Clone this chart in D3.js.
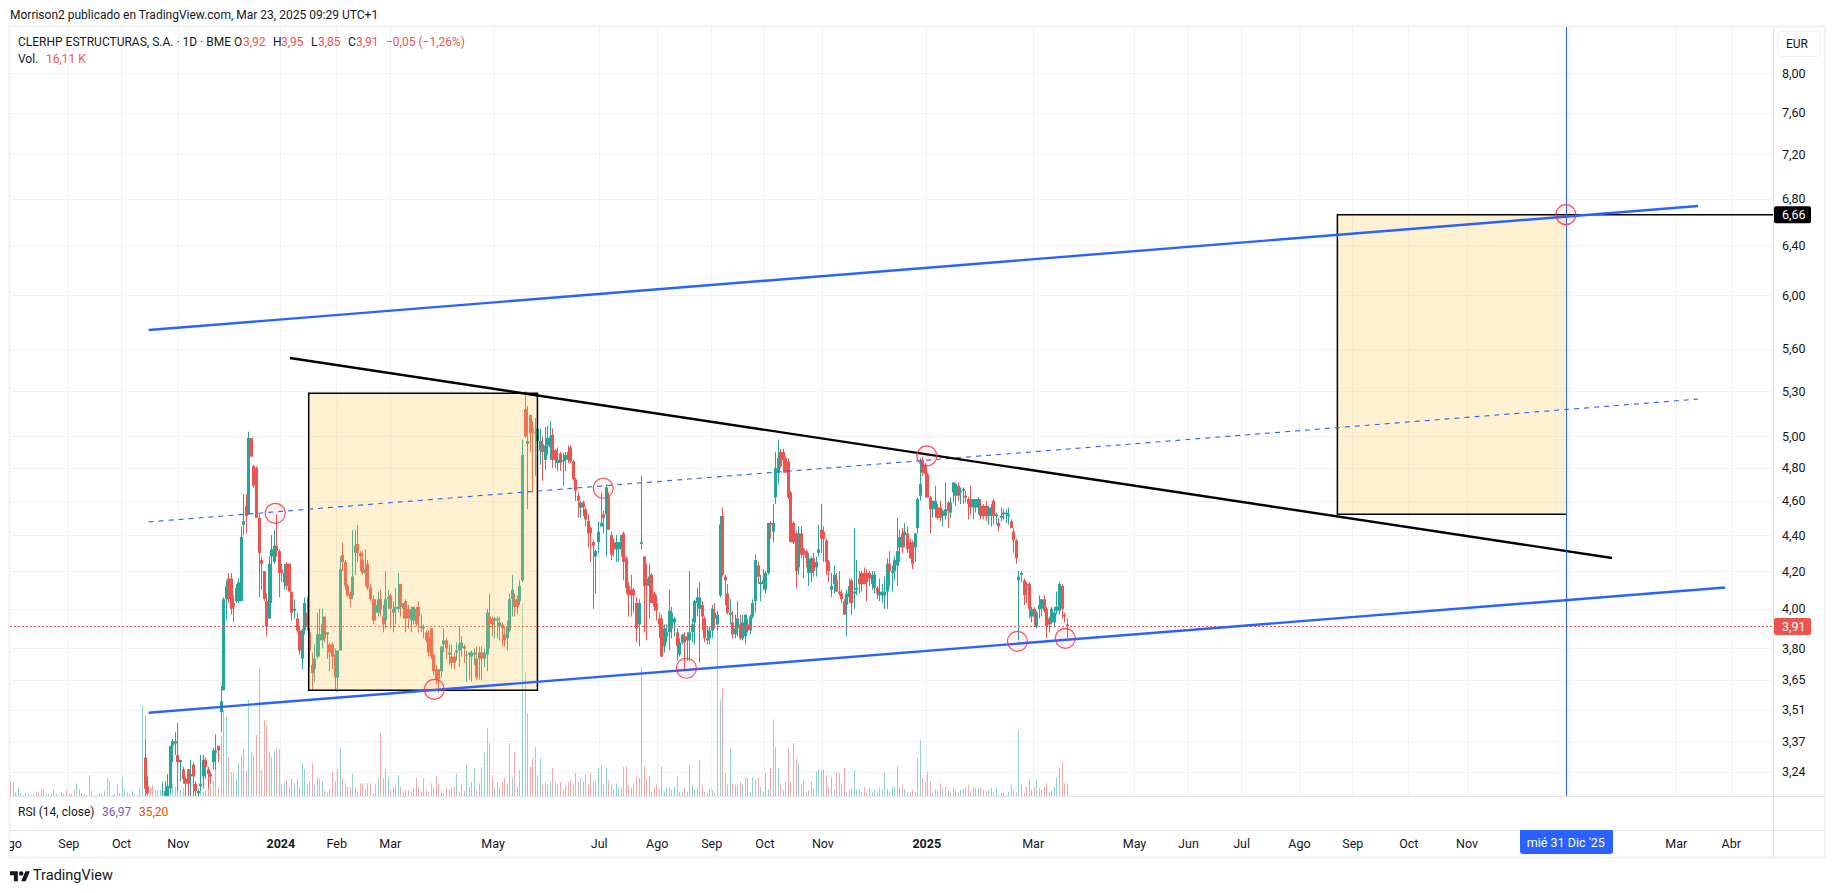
<!DOCTYPE html>
<html lang="es">
<head>
<meta charset="utf-8">
<title>CLERHP ESTRUCTURAS, S.A. · 1D · BME</title>
<script src="https://cdn.jsdelivr.net/npm/d3@7/dist/d3.min.js"></script>
<style>
  html, body { margin: 0; padding: 0; background: #fff; }
  svg { display: block; }
  text { font-family: Roboto, sans-serif; font-size: 12px; fill: #131722; }
</style>
</head>
<body>
<div id="chart"></div>
<script>
// Daily session table. Bars 0-52 sit below the visible price range, so only
// their volume is kept; candles start at bar 53. Prices are in euro cents.
const firstCandle = 53;
const lastBar = 417;

const opens = [
330,318,310,308,307,309,306,310,312,314,
317,335,336,331,328,325,321,325,322,327,
319,315,318,322,329,325,323,328,332,335,
350,360,405,416,416,403,404,404,404,446,
457,452,499,481,480,450,426,420,404,395,
428,425,434,431,421,414,424,424,409,399,
395,389,375,389,398,388,372,370,376,384,
384,396,387,382,382,377,366,379,429,425,
412,408,407,430,435,430,426,419,424,411,
405,398,398,405,396,394,405,407,398,400,
400,413,400,404,400,394,394,400,401,390,
390,388,386,390,377,370,370,369,382,384,
377,376,376,378,379,380,381,377,377,376,
377,375,375,378,375,377,396,395,394,394,
391,392,387,385,389,405,405,405,404,415,
518,495,514,505,503,497,491,495,485,494,
493,501,491,483,489,484,485,490,493,484,
473,463,456,459,455,448,444,436,428,436,
445,452,452,462,440,436,432,432,432,441,
427,412,410,410,403,392,435,428,416,412,
418,408,403,395,395,381,386,388,390,393,
388,377,383,386,386,384,388,393,403,400,
402,395,384,385,389,398,392,407,451,417,
408,397,393,387,390,392,385,386,392,389,
396,404,423,413,413,410,419,447,442,462,
477,490,490,486,484,465,447,441,422,441,
432,
431,419,419,427,422,430,443,442,437,425,
410,413,415,409,408,404,402,406,415,408,
410,416,419,419,419,419,413,411,411,407,
407,407,409,424,419,420,423,433,441,440,
441,436,436,433,444,463,485,482,476,462,
455,455,456,456,451,451,459,453,465,463,
469,465,466,463,461,461,456,456,456,457,
457,457,451,451,460,451,447,450,452,452,
451,448,442,437,415,418,415,413,413,396,
400,391,400,400,405,400,395,393,393,399,
399,412,397,392];

const highs = [
338,322,312,311,310,312,311,319,320,323,
335,338,341,345,329,326,322,325,329,328,
320,317,331,331,330,326,324,334,340,335,
362,406,415,419,419,407,413,416,445,464,
464,503,499,482,481,452,428,420,408,428,
440,443,452,432,424,424,425,424,409,405,
398,391,390,406,406,390,378,382,398,400,
400,396,388,383,383,380,379,428,436,426,
413,409,443,443,446,431,431,432,426,413,
407,405,409,410,402,420,410,408,404,411,
419,413,402,405,402,401,401,401,404,397,
392,389,389,390,377,372,370,381,390,385,
382,382,378,383,391,386,382,379,378,379,
380,381,381,381,380,400,408,396,396,396,
396,393,391,394,408,418,408,407,415,498,
530,520,514,510,512,510,505,500,506,507,
510,505,492,493,490,489,490,494,494,485,
474,465,460,460,456,452,445,437,432,448,
465,454,470,465,442,438,440,436,440,442,
428,414,418,411,406,405,475,428,424,424,
419,409,407,398,397,392,392,410,401,396,
390,385,387,388,388,420,395,405,411,414,
404,396,391,391,402,403,399,451,456,418,
413,405,399,397,404,397,397,397,395,397,
405,429,425,418,421,420,447,448,458,490,
498,492,492,487,486,466,448,442,445,445,
433,
432,430,428,430,428,446,458,445,438,426,
419,423,419,420,410,405,410,416,416,444,
426,420,420,422,421,420,420,420,412,416,
413,417,427,431,423,428,450,443,444,447,
445,438,437,441,462,486,487,483,477,463,
460,469,458,460,455,471,460,462,471,471,
471,468,468,466,462,469,461,461,462,461,
458,460,457,458,461,453,450,456,455,455,
456,449,444,438,420,420,416,414,414,401,
401,399,407,405,407,401,396,401,401,409,
414,413,398,395];

const lows = [
314,314,305,304,303,305,304,310,310,312,
315,328,331,316,320,319,314,314,314,314,
312,312,316,317,321,317,319,325,325,328,
341,360,394,403,397,393,403,403,404,440,
441,452,487,468,450,406,410,404,386,395,
403,424,428,406,414,410,410,409,394,395,
388,377,370,387,389,371,360,364,375,376,
380,383,375,369,370,360,359,379,420,410,
406,401,405,418,425,420,418,412,410,404,
392,394,396,396,388,390,400,390,388,392,
398,396,395,388,390,388,392,391,388,388,
385,383,376,375,367,363,359,366,378,375,
372,370,370,374,371,376,373,364,365,364,
372,365,365,365,371,369,380,386,385,385,
384,381,381,379,388,396,396,397,402,414,
499,455,490,465,475,475,482,472,479,488,
485,480,480,478,478,469,478,483,483,472,
460,450,450,451,445,433,425,400,408,430,
445,441,428,443,426,428,425,425,428,415,
408,396,396,398,383,381,432,388,384,395,
403,399,394,385,376,378,383,379,385,386,
374,376,382,369,374,374,383,382,396,373,
389,383,382,382,385,390,389,406,417,402,
397,392,385,385,386,384,384,382,388,387,
395,398,413,404,410,408,418,438,436,458,
470,480,477,477,461,436,435,411,418,427,
416,
422,412,414,417,417,428,430,425,418,414,
406,408,409,407,403,397,386,403,397,400,
407,408,409,413,404,412,410,408,405,404,
403,400,400,412,409,415,412,425,430,433,
430,427,421,425,441,460,475,462,462,441,
450,450,449,448,445,449,444,450,459,457,
460,458,458,459,449,452,449,453,452,449,
449,448,446,445,446,446,442,448,449,447,
446,444,430,424,384,414,402,403,395,393,
391,390,395,396,398,385,388,392,391,397,
397,395,393,385];

const closes = [
317,315,308,307,309,306,310,314,316,318,
335,337,337,328,329,321,319,319,323,322,
316,316,319,329,326,323,322,333,333,333,
355,405,412,405,400,401,411,414,439,448,
451,499,487,469,450,430,424,405,391,424,
432,434,431,419,419,419,412,409,398,400,
389,379,389,403,391,379,368,375,387,387,
392,385,388,378,376,366,379,421,425,412,
407,405,417,434,430,428,419,421,411,405,
394,402,405,400,392,405,406,400,400,401,
401,401,403,395,395,400,401,392,396,391,
391,384,378,376,369,365,365,381,384,380,
378,373,373,379,382,383,380,377,378,378,
378,366,378,375,378,398,392,392,395,395,
393,390,384,391,405,410,401,401,412,488,
500,497,502,503,502,505,497,490,494,499,
500,485,485,485,483,485,488,485,484,473,
466,460,459,456,449,441,441,434,431,442,
447,450,468,443,429,432,436,436,440,425,
411,407,407,407,390,403,436,412,412,417,
403,401,399,392,376,390,388,399,398,395,
381,383,387,383,384,388,392,404,406,406,
396,385,385,389,400,395,397,446,418,415,
398,398,387,390,395,385,393,397,389,396,
403,426,417,414,415,419,447,446,447,480,
486,481,485,477,462,436,436,420,441,429,
429,
427,427,427,420,425,432,438,438,425,420,
412,418,409,408,405,397,408,412,403,409,
411,413,413,413,414,416,418,418,408,409,
409,409,424,420,420,426,431,439,433,442,
432,427,424,441,461,470,477,476,462,455,
460,460,450,450,454,455,454,459,471,470,
463,466,467,462,458,456,461,461,461,451,
451,451,456,456,451,452,445,451,453,453,
452,444,437,427,417,419,407,412,400,400,
396,398,402,405,399,391,392,400,398,401,
413,400,396,391];

// Volume in thousands of shares, one value per bar from bar 0.
const volumes = [
20,19,5,11,4,1,4,4,1,3,
5,5,9,8,4,3,3,8,3,1,
5,3,8,3,3,8,17,9,4,3,
1,28,7,1,1,4,3,7,24,21,
1,3,16,4,25,8,4,3,7,1,
1,11,121,
109,25,11,15,8,8,8,21,19,21,
19,17,12,31,8,11,8,24,12,15,
11,4,11,5,8,21,13,21,71,11,
81,115,106,52,32,31,24,44,56,63,
34,129,59,56,82,172,35,102,94,60,
52,60,64,63,16,17,21,13,23,17,
23,12,44,36,15,20,44,15,25,23,
19,7,4,9,32,20,36,64,24,17,
12,12,30,11,5,17,17,8,17,17,
4,15,24,85,24,36,25,8,12,15,
28,12,4,8,8,5,11,25,11,5,
24,8,5,17,12,27,17,5,4,11,
8,11,12,30,5,15,7,42,12,19,
38,8,17,39,58,91,71,25,11,19,
11,19,25,15,71,25,59,12,35,258,
166,111,39,51,66,28,51,15,17,15,
19,38,19,15,19,8,15,19,21,15,
31,19,24,19,28,15,31,19,21,38,
42,15,38,21,15,9,17,11,11,39,
40,15,11,17,27,24,173,40,24,27,
5,11,16,8,39,5,11,11,8,13,
27,5,5,11,5,42,15,8,11,47,
15,5,4,9,8,5,223,129,145,31,
15,64,17,15,15,19,15,25,25,5,
25,21,24,12,5,31,9,38,103,66,
38,17,8,19,64,19,71,50,44,15,
21,5,8,19,11,32,36,35,36,28,
12,25,8,31,31,17,38,5,8,11,
35,8,9,5,12,5,11,5,9,5,
11,8,31,9,5,12,12,40,11,15,
9,5,5,8,5,51,75,24,19,32,
19,4,9,8,17,11,12,8,5,11,
8,5,8,9,11,15,5,11,11,11,
12,8,5,8,11,5,12,1,4,5,
1,5,15,8,5,89,15,4,12,23,
8,12,21,11,8,12,17,5,7,12,
25,38,46,17,16.11];

// Direction of the bars that have no visible candle (1 = rising).
const earlyRising = [
0,1,0,1,1,1,0,1,1,0,
0,0,0,0,1,1,0,1,1,0,
1,0,0,1,1,0,1,1,0,1,
1,1,0,1,1,1,0,1,0,1,
1,1,0,1,1,1,0,0,1,1,
1,1,1];

// Axis labels.
const priceTicks = [8, 7.6, 7.2, 6.8, 6.4, 6, 5.6, 5.3, 5, 4.8, 4.6, 4.4, 4.2, 4, 3.8, 3.65, 3.51, 3.37, 3.24];
const timeLabels = ["Ago","Sep","Oct","Nov","2024","Feb","Mar","May","Jul","Ago","Sep","Oct","Nov","2025","Mar","May","Jun","Jul","Ago","Sep","Oct","Nov","Mar","Abr"];
const timeBars   = [0,22.9,43.7,66.1,106.6,128.7,149.8,190.4,232.3,255.2,276.7,297.7,320.6,361.6,403.6,443.6,464.9,485.9,508.7,529.8,551.9,574.9,657.5,679.2];
const yearLabels = ["2024","2025"];
const hiddenTickBar = 615.4;

// Trend lines as bar / price anchors, and the two measured zones.
const supportLine = [[54.6, 3.497], [677, 4.112]];
const upperLine   = [[54.6, 5.737], [666.3, 6.735]];
const middleLine  = [[54.6, 4.476], [666.3, 5.247]];
const blackLine   = [[110.4, 5.533], [632.3, 4.272]];
const targetPrice = 6.66;
const lastClose = 3.91;
const zoneBars = [[117.8, 208.1], [523.9, 614.1]];
const zonePrices = [[5.286, 3.60], [targetPrice, 4.52]];
const markerBars = [104.6, 167.4, 234.1, 266.9, 361.8, 397.6, 416.5, 614.1];
const markerPrices = [4.526, 3.604, 4.675, 3.704, 4.875, 3.835, 3.85, targetPrice];
const cursorBar = 614.1;

const GREEN = "#26a69a", RED = "#ef5350", BLUE = "#2962ff", GRID = "#eff1f4", RULE = "#e0e3eb";
const FONT = "Roboto, sans-serif";
const comma = d => d.toFixed(2).replace(".", ",");

const width = 1835, height = 893;
const paneLeft = 10, paneRight = 1773, paneTop = 27, paneBottom = 796;
const rsiBottom = 830, axisBottom = 857;

const svg = d3.select("#chart").append("svg").attr("width", width).attr("height", height);

const x = d3.scaleLinear().domain([0, lastBar]).range([10.3, 1066.6]);
const y = d3.scaleLog().domain([8, 3.24]).range([73, 771.7]);
const vol = d3.scaleLinear().domain([0, 258]).range([paneBottom, paneBottom - 192]);

svg.append("clipPath").attr("id", "pane").append("rect")
  .attr("x", paneLeft).attr("y", paneTop)
  .attr("width", paneRight - paneLeft).attr("height", paneBottom - paneTop);

// Frame and separators.
const frame = svg.append("g");
frame.append("rect").attr("x", 9.5).attr("y", 26.5).attr("width", 1815.5).attr("height", 831)
  .attr("fill", "none").attr("stroke", "#f0f1f4").attr("stroke-width", 2);
[paneBottom, rsiBottom].forEach(v => frame.append("line")
  .attr("x1", paneLeft).attr("x2", 1825).attr("y1", v + .5).attr("y2", v + .5).attr("stroke", RULE));
frame.append("line").attr("x1", paneRight + .5).attr("x2", paneRight + .5)
  .attr("y1", paneTop).attr("y2", axisBottom).attr("stroke", RULE);

const plot = svg.append("g").attr("clip-path", "url(#pane)");

// Grid.
plot.append("g").selectAll("line").data(priceTicks).join("line")
  .attr("x1", paneLeft).attr("x2", paneRight)
  .attr("y1", d => Math.round(y(d)) + .5).attr("y2", d => Math.round(y(d)) + .5)
  .attr("stroke", GRID);
plot.append("g").selectAll("line").data([...timeBars.slice(1), hiddenTickBar]).join("line")
  .attr("x1", d => Math.round(x(d)) + .5).attr("x2", d => Math.round(x(d)) + .5)
  .attr("y1", paneTop).attr("y2", paneBottom)
  .attr("stroke", GRID);

// Bar direction, shared by volume and candles.
const rising = i => i < firstCandle
  ? earlyRising[i] === 1
  : closes[i - firstCandle] >= opens[i - firstCandle];

// Volume.
plot.append("g").selectAll("rect").data(volumes).join("rect")
  .attr("x", (d, i) => Math.round(x(i)))
  .attr("width", 1)
  .attr("y", d => vol(d))
  .attr("height", d => paneBottom - vol(d))
  .attr("fill", (d, i) => rising(i) ? GREEN : RED)
  .attr("fill-opacity", .5);

// Candles.
const candles = plot.append("g").selectAll("g").data(opens).join("g")
  .attr("fill", (d, k) => rising(k + firstCandle) ? GREEN : RED);
candles.append("rect")
  .attr("x", (d, k) => Math.round(x(k + firstCandle)))
  .attr("width", 1)
  .attr("y", (d, k) => y(highs[k] / 100))
  .attr("height", (d, k) => y(lows[k] / 100) - y(highs[k] / 100));
candles.append("rect")
  .attr("x", (d, k) => Math.round(x(k + firstCandle)) - 1)
  .attr("width", 3)
  .attr("y", (d, k) => y(Math.max(opens[k], closes[k]) / 100))
  .attr("height", (d, k) => Math.max(1, Math.abs(y(opens[k] / 100) - y(closes[k] / 100))));

// Last price line.
plot.append("line")
  .attr("x1", paneLeft).attr("x2", paneRight)
  .attr("y1", Math.round(y(lastClose)) + .5).attr("y2", Math.round(y(lastClose)) + .5)
  .attr("stroke", RED).attr("stroke-dasharray", "2 2");

// Measured zones.
zoneBars.forEach((bars, n) => {
  const xa = x(bars[0]), xb = x(bars[1]), ya = y(zonePrices[n][0]), yb = y(zonePrices[n][1]);
  plot.append("rect").attr("x", xa).attr("y", ya).attr("width", xb - xa).attr("height", yb - ya)
    .attr("fill", "#facd55").attr("fill-opacity", .27);
  const outline = n === 0
    ? `M${xa},${ya}H${xb}V${yb}H${xa}Z`
    : `M${xb},${ya}H${xa}V${yb}H${xb}`;
  plot.append("path").attr("d", outline).attr("fill", "none").attr("stroke", "#000").attr("stroke-width", 1.5);
});
plot.append("line")
  .attr("x1", x(zoneBars[1][1])).attr("x2", paneRight)
  .attr("y1", y(targetPrice)).attr("y2", y(targetPrice))
  .attr("stroke", "#000").attr("stroke-width", 1.5);

// Trend lines.
const trend = d3.line().x(d => x(d[0])).y(d => y(d[1]));
const drawTrend = (pts, color, w, dash) => plot.append("path").attr("d", trend(pts))
  .attr("fill", "none").attr("stroke", color).attr("stroke-width", w).attr("stroke-dasharray", dash);
drawTrend(supportLine, BLUE, 2.4, null);
drawTrend(upperLine, BLUE, 2.4, null);
drawTrend(middleLine, BLUE, 1.1, "5 5");
drawTrend(blackLine, "#000", 2.4, null);

// Vertical marker at the projected date.
plot.append("line")
  .attr("x1", Math.round(x(cursorBar)) + .5).attr("x2", Math.round(x(cursorBar)) + .5)
  .attr("y1", paneTop).attr("y2", paneBottom).attr("stroke", BLUE);

// Circled touch points.
plot.append("g").selectAll("circle").data(markerBars).join("circle")
  .attr("cx", d => x(d)).attr("cy", (d, i) => y(markerPrices[i])).attr("r", 10)
  .attr("fill", "#f23645").attr("fill-opacity", .07)
  .attr("stroke", "#f23645").attr("stroke-opacity", .85).attr("stroke-width", 1.2);

// Price axis.
const priceAxis = svg.append("g").attr("transform", `translate(${paneRight},0)`)
  .call(d3.axisRight(y).tickValues(priceTicks).tickFormat(comma).tickSize(0).tickPadding(9));
priceAxis.select(".domain").remove();
priceAxis.selectAll("text").style("font-family", FONT).style("font-size", "12.5px").attr("fill", "#131722");

const priceTag = (value, color) => {
  const yy = y(value);
  svg.append("rect").attr("x", 1774).attr("y", yy - 8.5).attr("width", 37).attr("height", 17)
    .attr("rx", 2).attr("fill", color);
  svg.append("text").attr("x", 1782).attr("y", yy + 4.5).style("fill", "#fff").style("font-size", "12.5px").text(comma(value));
};
priceTag(lastClose, RED);
priceTag(targetPrice, "#000");

// Currency button.
svg.append("rect").attr("x", 1777.5).attr("y", 31.5).attr("width", 43).attr("height", 25).attr("rx", 4)
  .attr("fill", "#fff").attr("stroke", "#f0f1f4");
svg.append("text").attr("x", 1797).attr("y", 48).attr("text-anchor", "middle").text("EUR");

// Time axis.
svg.append("clipPath").attr("id", "timeaxisLocal").append("rect")
  .attr("x", paneLeft).attr("y", 0).attr("width", paneRight - paneLeft).attr("height", axisBottom - rsiBottom);
const timeAxis = svg.append("g").attr("transform", `translate(0,${rsiBottom})`)
  .attr("clip-path", "url(#timeaxisLocal)");
timeAxis.call(d3.axisBottom(x).tickValues(timeBars).tickFormat((d, i) => timeLabels[i]).tickSize(0).tickPadding(9));
timeAxis.select(".domain").remove();
timeAxis.selectAll("text")
  .style("font-family", FONT).style("font-size", "12.5px").attr("fill", "#131722")
  .style("font-weight", (d, i) => yearLabels.includes(timeLabels[i]) ? 700 : 400);

// Date tag under the vertical marker.
svg.append("path")
  .attr("d", `M1520,830H1613V851a3,3 0 0 1 -3,3H1523a3,3 0 0 1 -3,-3Z`).attr("fill", BLUE);
svg.append("text").attr("x", x(cursorBar)).attr("y", 847).attr("text-anchor", "middle")
  .style("fill", "#fff").style("font-size", "12.5px").text("mié 31 Dic '25");

// Byline.
svg.append("text").attr("x", 10).attr("y", 19).text("Morrison2 publicado en TradingView.com, Mar 23, 2025 09:29 UTC+1");

// Legend rows: each run of text placed on its own so values line up.
const legend = [
  ["CLERHP ESTRUCTURAS, S.A. · 1D · BME", 18, 46, "#131722"],
  ["O", 234, 46, "#131722"], ["3,92", 243, 46, RED],
  ["H", 273, 46, "#131722"], ["3,95", 281, 46, RED],
  ["L", 311, 46, "#131722"], ["3,85", 318, 46, RED],
  ["C", 348, 46, "#131722"], ["3,91", 356, 46, RED],
  ["−0,05 (−1,26%)", 386, 46, RED],
  ["Vol.", 18, 63, "#131722"], ["16,11 K", 46, 63, RED],
  ["RSI (14, close)", 18, 816, "#131722"], ["36,97", 102, 816, "#7e57c2"], ["35,20", 139, 816, "#e65100"]
];
svg.append("g").selectAll("text").data(legend).join("text")
  .attr("x", d => d[1]).attr("y", d => d[2]).style("fill", d => d[3]).text(d => d[0]);

// Footer brand mark.
const brand = svg.append("g").attr("transform", "translate(10,869) scale(.56)").attr("fill", "#131722");
brand.append("path").attr("d", "M14 22H7V11H0V4h14v18zM28 22h-8l7.5-18h8L28 22z");
brand.append("circle").attr("cx", 20).attr("cy", 8).attr("r", 4);
svg.append("text").attr("x", 33).attr("y", 880).style("font-size", "14.5px").text("TradingView");
</script>
</body>
</html>
